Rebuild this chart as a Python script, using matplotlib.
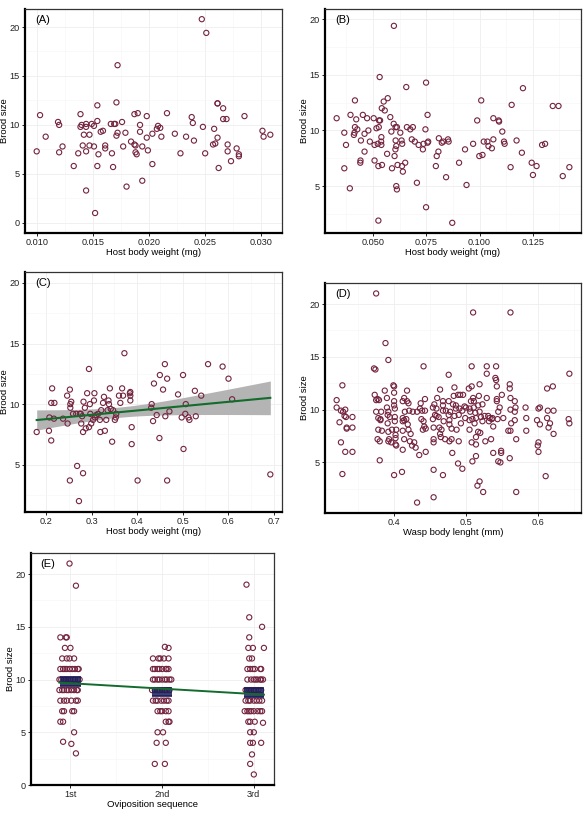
import numpy as np
import matplotlib
matplotlib.use("Agg")
import matplotlib.pyplot as plt
from matplotlib.ticker import AutoMinorLocator, FormatStrFormatter

plt.rcParams['font.family'] = ['Liberation Sans', 'DejaVu Sans']

# --- data ---
# (A) host body weight (mg) vs brood size
a_weight = [0.0100, 0.0103, 0.0108, 0.0119, 0.0120, 0.0120, 0.0123, 0.0133, 0.0137, 0.0139,
            0.0139, 0.0140, 0.0141, 0.0142, 0.0144, 0.0144, 0.0144, 0.0144, 0.0147, 0.0147,
            0.0149, 0.0151, 0.0151, 0.0152, 0.0154, 0.0154, 0.0155, 0.0154, 0.0157, 0.0159,
            0.0161, 0.0161, 0.0166, 0.0167, 0.0168, 0.0169, 0.0170, 0.0171, 0.0171, 0.0172,
            0.0172, 0.0176, 0.0177, 0.0179, 0.0180, 0.0184, 0.0187, 0.0187, 0.0188, 0.0188,
            0.0189, 0.0190, 0.0192, 0.0192, 0.0194, 0.0194, 0.0198, 0.0198, 0.0199, 0.0203,
            0.0203, 0.0207, 0.0208, 0.0210, 0.0211, 0.0216, 0.0223, 0.0228, 0.0233, 0.0238,
            0.0239, 0.0240, 0.0247, 0.0248, 0.0250, 0.0251, 0.0257, 0.0258, 0.0259, 0.0261,
            0.0261, 0.0261, 0.0262, 0.0266, 0.0266, 0.0269, 0.0270, 0.0270, 0.0273, 0.0278,
            0.0280, 0.0280, 0.0285, 0.0301, 0.0302, 0.0308]
a_brood = [7.3, 11.0, 8.8, 10.3, 10.0, 7.2, 7.8, 5.8, 7.1, 11.1,
           9.8, 10.0, 7.9, 9.0, 10.1, 9.8, 7.3, 3.3, 9.0, 7.9,
           10.1, 9.9, 7.8, 1.0, 10.4, 12.0, 7.0, 5.8, 9.3, 9.4,
           7.9, 7.6, 10.1, 7.1, 5.7, 10.1, 10.1, 8.9, 12.3, 16.1,
           9.2, 10.3, 7.8, 9.2, 3.7, 8.3, 11.1, 8.0, 7.9, 7.2,
           7.0, 11.2, 10.0, 9.3, 4.3, 7.8, 8.7, 10.9, 7.4, 6.0,
           9.1, 9.6, 9.9, 9.7, 8.8, 11.2, 9.1, 7.1, 8.8, 10.8,
           10.2, 8.4, 20.8, 9.8, 7.1, 19.4, 8.0, 9.6, 8.1, 12.2,
           12.2, 8.7, 5.6, 11.7, 10.6, 10.6, 8.0, 7.3, 6.3, 7.6,
           7.0, 6.8, 10.9, 9.4, 8.8, 9.0]

# (B) host body weight (mg) vs brood size
b_weight = [0.0329, 0.0365, 0.0365, 0.0373, 0.0391, 0.0394, 0.0410, 0.0413, 0.0415, 0.0415,
            0.0421, 0.0426, 0.0443, 0.0441, 0.0440, 0.0452, 0.0460, 0.0460, 0.0472, 0.0478,
            0.0485, 0.0503, 0.0507, 0.0507, 0.0516, 0.0522, 0.0525, 0.0525, 0.0527, 0.0528,
            0.0531, 0.0533, 0.0538, 0.0539, 0.0541, 0.0542, 0.0539, 0.0550, 0.0555, 0.0566,
            0.0569, 0.0581, 0.0586, 0.0589, 0.0597, 0.0598, 0.0601, 0.0605, 0.0606, 0.0606,
            0.0609, 0.0612, 0.0609, 0.0612, 0.0615, 0.0628, 0.0634, 0.0637, 0.0636, 0.0640,
            0.0651, 0.0656, 0.0659, 0.0675, 0.0682, 0.0687, 0.0696, 0.0706, 0.0714, 0.0734,
            0.0737, 0.0746, 0.0749, 0.0749, 0.0756, 0.0756, 0.0759, 0.0795, 0.0799, 0.0807,
            0.0809, 0.0823, 0.0830, 0.0843, 0.0852, 0.0855, 0.0872, 0.0904, 0.0932, 0.0939,
            0.0970, 0.0989, 0.0999, 0.1008, 0.1014, 0.1020, 0.1037, 0.1042, 0.1058, 0.1065,
            0.1065, 0.1090, 0.1092, 0.1107, 0.1115, 0.1118, 0.1146, 0.1151, 0.1174, 0.1199,
            0.1204, 0.1245, 0.1251, 0.1268, 0.1294, 0.1308, 0.1344, 0.1371, 0.1391, 0.1422]
b_brood = [11.1, 9.8, 6.6, 8.7, 4.8, 11.4, 9.6, 9.8, 12.7, 10.3,
           11.0, 10.1, 9.1, 7.3, 7.1, 11.4, 8.1, 9.7, 11.1, 10.0,
           9.0, 11.1, 8.7, 7.3, 10.2, 8.8, 6.8, 1.9, 10.3, 10.9,
           14.8, 10.9, 9.0, 9.4, 12.0, 6.9, 8.7, 12.6, 11.8, 7.9,
           12.9, 11.2, 9.9, 6.6, 10.6, 19.4, 7.7, 8.3, 9.1, 10.3,
           5.0, 4.7, 8.6, 10.3, 6.9, 9.8, 9.1, 8.8, 6.8, 6.3,
           7.1, 13.9, 10.3, 10.1, 9.2, 10.3, 9.0, 5.3, 8.7, 8.3,
           8.8, 10.1, 3.1, 14.3, 11.4, 8.9, 9.0, 6.8, 7.7, 8.1,
           9.3, 8.9, 9.0, 5.8, 9.2, 9.0, 1.7, 7.1, 8.3, 5.1,
           8.8, 10.9, 7.7, 12.7, 7.8, 9.0, 9.0, 8.6, 8.4, 11.1,
           9.2, 10.9, 10.8, 9.9, 9.0, 8.8, 6.7, 12.3, 9.1, 8.0,
           13.8, 7.1, 6.0, 6.8, 8.7, 8.8, 12.2, 12.2, 5.9, 6.7]

# (C) host body weight (mg) vs brood size, with linear fit
c_weight = [0.179, 0.206, 0.207, 0.211, 0.211, 0.213, 0.218, 0.217, 0.237, 0.246,
            0.247, 0.252, 0.252, 0.253, 0.253, 0.255, 0.259, 0.266, 0.268, 0.272,
            0.274, 0.276, 0.277, 0.279, 0.281, 0.281, 0.282, 0.285, 0.287, 0.290,
            0.294, 0.294, 0.296, 0.297, 0.299, 0.303, 0.305, 0.306, 0.307, 0.310,
            0.314, 0.318, 0.319, 0.321, 0.325, 0.327, 0.329, 0.332, 0.335, 0.337,
            0.338, 0.340, 0.342, 0.345, 0.347, 0.351, 0.353, 0.354, 0.360, 0.363,
            0.367, 0.369, 0.372, 0.384, 0.385, 0.385, 0.385, 0.388, 0.388, 0.401,
            0.431, 0.432, 0.435, 0.437, 0.443, 0.449, 0.450, 0.457, 0.461, 0.462,
            0.466, 0.466, 0.471, 0.490, 0.498, 0.501, 0.502, 0.506, 0.507, 0.513,
            0.515, 0.527, 0.529, 0.541, 0.556, 0.588, 0.601, 0.609, 0.693]
c_brood = [7.7, 7.8, 8.9, 7.0, 10.1, 11.3, 10.1, 8.8, 8.8, 10.7,
           8.4, 3.7, 11.2, 9.7, 10.0, 10.2, 9.2, 9.2, 4.9, 2.0,
           9.2, 9.2, 8.4, 9.0, 7.7, 4.3, 10.2, 9.7, 8.0, 10.9,
           12.9, 8.1, 10.0, 9.2, 8.4, 8.7, 10.3, 10.9, 8.9, 9.1,
           9.2, 8.7, 7.7, 9.5, 10.1, 10.6, 7.8, 8.7, 9.5, 10.3,
           10.0, 11.3, 9.6, 6.9, 9.5, 8.7, 8.9, 9.2, 10.7, 10.1,
           11.3, 10.7, 14.2, 10.9, 10.3, 11.0, 10.7, 8.1, 6.7, 3.7,
           9.7, 10.0, 8.6, 11.7, 9.1, 7.2, 12.4, 11.2, 13.3, 9.0,
           12.1, 3.7, 9.4, 10.8, 8.9, 12.4, 6.3, 9.2, 10.0, 8.9,
           8.7, 11.1, 9.0, 10.7, 13.3, 13.1, 12.1, 10.4, 4.2]

# (D) wasp body length (mm) vs brood size
d_length = [0.320, 0.320, 0.324, 0.326, 0.326, 0.328, 0.329, 0.331, 0.332, 0.332,
            0.333, 0.334, 0.334, 0.328, 0.342, 0.342, 0.342,
            0.375, 0.372, 0.374, 0.373, 0.375, 0.375, 0.377, 0.378, 0.378, 0.379,
            0.380, 0.377, 0.381, 0.380, 0.381, 0.382, 0.383,
            0.388, 0.387, 0.390, 0.390, 0.391, 0.391, 0.392, 0.392, 0.392, 0.392,
            0.393, 0.394, 0.396, 0.397, 0.399, 0.400, 0.400, 0.400, 0.400, 0.400,
            0.401, 0.401, 0.401, 0.402, 0.402, 0.403, 0.403, 0.402,
            0.411, 0.412, 0.412, 0.412, 0.412, 0.412, 0.414, 0.414, 0.414, 0.415,
            0.417, 0.418, 0.418, 0.419, 0.420, 0.420, 0.421, 0.422, 0.423, 0.425,
            0.426, 0.428, 0.430, 0.432, 0.435, 0.436, 0.437, 0.438, 0.439, 0.440,
            0.441, 0.441, 0.442, 0.443, 0.443, 0.444, 0.444, 0.432,
            0.455, 0.455, 0.454, 0.454, 0.455, 0.455, 0.455, 0.456, 0.457, 0.459,
            0.459, 0.460, 0.462, 0.463, 0.464, 0.464, 0.465, 0.466, 0.468, 0.468,
            0.468, 0.468, 0.469, 0.471, 0.472,
            0.476, 0.476, 0.476, 0.477, 0.477, 0.477, 0.478, 0.480, 0.480, 0.481,
            0.482, 0.483, 0.484, 0.484, 0.486, 0.486, 0.487, 0.489, 0.489, 0.490,
            0.490, 0.491, 0.492, 0.493, 0.495, 0.495, 0.496, 0.498, 0.499, 0.500,
            0.504, 0.505, 0.505, 0.505, 0.506, 0.507, 0.508, 0.508, 0.508, 0.509,
            0.509, 0.510, 0.510, 0.511, 0.511, 0.512, 0.513, 0.514, 0.514, 0.514,
            0.514, 0.516, 0.517, 0.517, 0.518, 0.519, 0.519, 0.519, 0.520, 0.521,
            0.523, 0.523, 0.524, 0.526, 0.527,
            0.529, 0.529, 0.529, 0.531, 0.532, 0.533, 0.535, 0.536, 0.537, 0.538,
            0.538, 0.541, 0.542, 0.542, 0.543, 0.543, 0.543, 0.544, 0.545, 0.545,
            0.547, 0.548, 0.549, 0.549, 0.550, 0.552,
            0.559, 0.561, 0.561, 0.561, 0.562, 0.562, 0.562, 0.563, 0.562, 0.568,
            0.568, 0.568, 0.569, 0.570, 0.570,
            0.583, 0.584, 0.584, 0.601, 0.603, 0.599, 0.600, 0.601, 0.601, 0.603,
            0.611, 0.613, 0.613, 0.614, 0.615, 0.617, 0.621, 0.622, 0.622, 0.644,
            0.643, 0.644]
d_brood = [10.9, 10.2, 8.8, 9.9, 6.9, 12.3, 9.8, 9.4, 10.0, 6.0,
           9.3, 8.3, 8.2, 3.9, 9.3, 8.3, 6.0,
           21.0, 13.9, 13.8, 11.4, 10.9, 9.8, 11.0, 9.2, 8.1, 10.9,
           7.0, 7.2, 9.1, 5.2, 9.0, 9.8, 8.0,
           16.3, 11.8, 11.1, 10.2, 9.5, 8.7, 14.7, 7.0, 7.9, 9.8,
           7.2, 9.3, 6.9, 8.1, 12.3, 12.2, 3.8, 11.6, 10.8, 10.4,
           10.1, 9.3, 8.9, 7.3, 6.7, 6.6, 8.1, 7.6,
           4.1, 10.8, 9.2, 8.9, 8.0, 6.2, 11.1, 7.2, 9.0, 9.8,
           9.1, 11.8, 10.8, 8.6, 8.1, 10.6, 9.9, 7.0, 7.7, 6.6,
           9.8, 6.9, 6.4, 9.8, 5.7, 10.1, 10.6, 9.1, 9.9, 8.1,
           14.1, 8.9, 8.4, 11.0, 9.9, 6.0, 8.2, 1.2,
           1.7, 4.3, 10.2, 9.1, 8.3, 7.2, 6.9, 10.5, 9.5, 10.1,
           9.4, 11.1, 9.3, 8.3, 11.9, 7.7, 7.4, 8.1, 10.8, 9.9,
           3.8, 10.4, 8.9, 7.2, 9.9,
           13.3, 10.8, 9.5, 8.6, 9.0, 7.0, 9.8, 8.2, 7.2, 5.9,
           10.5, 11.3, 9.4, 12.1, 10.4, 10.1, 8.1, 11.4, 4.9, 7.0,
           9.5, 10.1, 11.4, 8.7, 9.9, 4.4, 11.4, 10.3, 9.2, 10.2,
           12.0, 10.1, 9.0, 8.1, 9.8, 10.8, 6.9, 12.2, 14.1, 5.1,
           9.1, 19.2, 11.1, 10.8, 10.2, 8.7, 9.7, 7.4, 5.6, 6.7,
           9.2, 2.8, 7.9, 10.4, 11.3, 9.8, 3.2, 12.4, 7.8, 9.3,
           10.5, 8.9, 2.2, 9.4, 7.0,
           14.1, 13.4, 11.1, 9.4, 8.9, 9.2, 7.2, 9.1, 9.2, 5.9,
           8.4, 13.0, 12.8, 14.1, 11.0, 10.8, 12.2, 9.1, 5.1, 9.8,
           10.2, 5.0, 5.9, 6.1, 11.4, 9.2,
           8.0, 5.4, 12.0, 12.4, 11.1, 10.0, 8.0, 8.7, 19.2, 10.8,
           9.0, 9.8, 10.2, 7.2, 2.2,
           10.2, 9.2, 8.0, 10.1, 10.2, 9.0, 6.6, 6.0, 6.9, 8.6,
           3.7, 12.0, 9.2, 9.9, 8.3, 8.7, 12.2, 9.9, 7.7, 13.4,
           9.1, 8.7]

# (E) oviposition sequence: brood sizes and horizontal jitter per group
seq_labels = ['1st', '2nd', '3rd']
e1_brood = [21, 18.9, 14, 14, 14, 13, 13, 12, 12, 12, 12,
            11, 11, 11, 11, 11, 11, 11, 11, 11,
            10, 10, 10, 10, 10, 10, 10, 10, 10, 10,
            9, 9, 9, 9, 9, 9, 9, 9, 9,
            8, 8, 8, 8, 8, 8, 7, 7, 7, 7, 6, 6, 5, 4.1, 3.9, 3]
e1_jit = [-0.01, 0.06, -0.11, -0.05, -0.04, -0.06, 0.0, -0.09, -0.04, -0.01, 0.04,
          -0.11, -0.08, -0.06, -0.04, -0.01, 0.02, 0.05, 0.08, 0.09,
          -0.12, -0.10, -0.07, -0.05, -0.03, 0.0, 0.03, 0.05, 0.08, 0.10,
          -0.12, -0.09, -0.07, -0.04, -0.02, 0.01, 0.04, 0.07, 0.08,
          -0.11, -0.07, -0.04, 0.01, 0.06, 0.08, -0.09, -0.07, 0.02, 0.04,
          -0.11, -0.08, 0.04, -0.08, 0.01, 0.06]
e2_brood = [13.1, 13, 12, 12, 12, 12, 12,
            11, 11, 11, 11, 11, 11, 11, 11,
            10, 10, 10, 10, 10, 10, 10, 10, 10,
            9, 9, 9, 9, 9, 9, 9, 9,
            8, 8, 8, 8, 8, 8, 8, 7, 7, 7, 7, 7,
            6, 6, 6, 5, 5, 4, 4, 2, 2]
e2_jit = [0.03, 0.07, -0.10, -0.04, -0.02, 0.02, 0.07,
          -0.10, -0.08, -0.05, -0.03, 0.0, 0.04, 0.05, 0.07,
          -0.10, -0.08, -0.05, -0.03, 0.0, 0.03, 0.05, 0.08, 0.10,
          -0.11, -0.08, -0.05, -0.03, 0.0, 0.03, 0.05, 0.08,
          -0.10, -0.07, -0.05, -0.01, 0.02, 0.05, 0.07, -0.05, -0.02, 0.0, 0.04, 0.07,
          0.04, 0.07, 0.08, -0.05, 0.01, -0.06, 0.04, -0.08, 0.03]
e3_brood = [19, 15.9, 15, 14, 13, 13, 13, 12, 12,
            11, 11, 11, 11, 11, 11,
            10, 10, 10, 10, 10, 10, 10, 10,
            9, 9, 9, 9, 9, 9, 9, 9,
            8, 8, 8, 8, 8, 8, 8,
            7, 7, 7, 7, 7, 7, 7, 7,
            6, 6, 6, 5.9, 5, 5, 4, 4, 4, 2.9, 2, 1]
e3_jit = [-0.08, -0.05, 0.09, -0.05, -0.06, -0.01, 0.11, -0.05, -0.02,
          -0.07, -0.04, -0.01, 0.01, 0.07, 0.08,
          -0.07, -0.03, 0.0, 0.02, 0.04, 0.07, 0.08, 0.10,
          -0.09, -0.07, -0.05, -0.03, 0.0, 0.02, 0.05, 0.08,
          -0.09, -0.06, -0.04, 0.0, 0.03, 0.06, 0.09,
          -0.10, -0.07, -0.05, -0.03, 0.0, 0.04, 0.07, 0.09,
          -0.06, -0.04, 0.01, 0.10, -0.04, 0.0, -0.04, -0.01, 0.08, -0.02, -0.04, 0.0]

# --- styling ---
PT_EDGE = '#74243f'
FIT_GREEN = '#136b2c'
NAVY = '#1c1f5c'
W, H = 588, 813


def add_axes(left, top, right, bottom):
    return fig.add_axes([left / W, 1 - bottom / H, (right - left) / W, (bottom - top) / H])


def style(ax, label):
    ax.set_facecolor('white')
    for side in ['top', 'right']:
        ax.spines[side].set_color('#333333')
        ax.spines[side].set_linewidth(0.9)
    for side in ['left', 'bottom']:
        ax.spines[side].set_color('black')
        ax.spines[side].set_linewidth(1.6)
    ax.tick_params(direction='out', length=2.5, width=0.7, colors='#222222',
                   labelsize=6.6, pad=1.2)
    ax.tick_params(which='minor', length=0)
    ax.grid(which='major', color='#eeeeee', lw=0.6)
    ax.grid(which='minor', color='#f6f6f6', lw=0.4)
    ax.set_axisbelow(True)
    ax.set_ylabel('Brood size', fontsize=6.8, labelpad=0.5)
    ax.text(0.04, 0.975, label, transform=ax.transAxes, fontsize=8,
            va='top', ha='left')


def points(ax, x, y):
    ax.scatter(x, y, s=14, facecolors='none', edgecolors=PT_EDGE, linewidths=0.8, zorder=3)


def expand(lo, hi, m=0.05):
    r = hi - lo
    return lo - m * r, hi + m * r


fig = plt.figure(figsize=(W / 100, H / 100), dpi=100)

# (A)
ax = add_axes(25, 9, 282, 233)
points(ax, a_weight, a_brood)
ax.set_xlim(*expand(min(a_weight), max(a_weight)))
ax.set_ylim(*expand(0, max(a_brood)))
ax.set_xticks([0.010, 0.015, 0.020, 0.025, 0.030])
ax.xaxis.set_major_formatter(FormatStrFormatter('%.3f'))
ax.set_yticks([0, 5, 10, 15, 20])
ax.xaxis.set_minor_locator(AutoMinorLocator(2))
ax.yaxis.set_minor_locator(AutoMinorLocator(2))
ax.set_xlabel('Host body weight (mg)', fontsize=6.8, labelpad=0.5)
style(ax, '(A)')

# (B)
ax = add_axes(325, 9, 581, 233)
points(ax, b_weight, b_brood)
ax.set_xlim(*expand(min(b_weight), max(b_weight)))
ax.set_ylim(*expand(min(b_brood), 20))
ax.set_xticks([0.050, 0.075, 0.100, 0.125])
ax.xaxis.set_major_formatter(FormatStrFormatter('%.3f'))
ax.set_yticks([5, 10, 15, 20])
ax.xaxis.set_minor_locator(AutoMinorLocator(2))
ax.yaxis.set_minor_locator(AutoMinorLocator(2))
ax.set_xlabel('Host body weight (mg)', fontsize=6.8, labelpad=0.5)
style(ax, '(B)')

# (C) with OLS fit and 95% band
ax = add_axes(25, 272, 282, 512)
cx = np.array(c_weight)
cy = np.array(c_brood)
slope, icpt = np.polyfit(cx, cy, 1)
resid = cy - (icpt + slope * cx)
n = len(cx)
s = np.sqrt(np.sum(resid ** 2) / (n - 2))
gx = np.linspace(cx.min(), cx.max(), 100)
gy = icpt + slope * gx
se = s * np.sqrt(1 / n + (gx - cx.mean()) ** 2 / np.sum((cx - cx.mean()) ** 2))
ax.fill_between(gx, gy - 1.98 * se, gy + 1.98 * se, color='#b4b4b4', lw=0, zorder=2)
ax.plot(gx, gy, color=FIT_GREEN, lw=1.5, zorder=4)
points(ax, cx, cy)
ax.set_xlim(*expand(cx.min(), cx.max()))
ax.set_ylim(*expand(cy.min(), 20))
ax.set_xticks([0.2, 0.3, 0.4, 0.5, 0.6, 0.7])
ax.xaxis.set_major_formatter(FormatStrFormatter('%.1f'))
ax.set_yticks([5, 10, 15, 20])
ax.xaxis.set_minor_locator(AutoMinorLocator(2))
ax.yaxis.set_minor_locator(AutoMinorLocator(2))
ax.set_xlabel('Host body weight (mg)', fontsize=6.8, labelpad=0.5)
style(ax, '(C)')

# (D)
ax = add_axes(325, 283, 581, 513)
points(ax, d_length, d_brood)
ax.set_xlim(*expand(min(d_length), max(d_length)))
ax.set_ylim(*expand(min(d_brood), max(d_brood)))
ax.set_xticks([0.4, 0.5, 0.6])
ax.xaxis.set_major_formatter(FormatStrFormatter('%.1f'))
ax.set_yticks([5, 10, 15, 20])
ax.xaxis.set_minor_locator(AutoMinorLocator(2))
ax.yaxis.set_minor_locator(AutoMinorLocator(2))
ax.set_xlabel('Wasp body lenght (mm)', fontsize=6.8, labelpad=0.5)
style(ax, '(D)')

# (E)
ax = add_axes(31, 553, 274, 785)
groups = [(e1_brood, e1_jit), (e2_brood, e2_jit), (e3_brood, e3_jit)]
all_x, all_y = [], []
for i, (yy, jj) in enumerate(groups, start=1):
    xx = [i + j for j in jj]
    all_x += xx
    all_y += yy
    points(ax, xx, yy)
    m = np.mean(yy)
    sem = np.std(yy, ddof=1) / np.sqrt(len(yy))
    ax.fill_between([i - 0.11, i + 0.11], m - sem, m + sem, color=NAVY, alpha=0.85,
                    lw=0, zorder=4)
    ax.hlines([m - sem, m + sem], i - 0.11, i + 0.11, color=NAVY, lw=1.2, zorder=4)
all_x = np.array(all_x)
slope_e, icpt_e = np.polyfit(all_x, all_y, 1)
ex = np.array([all_x.min(), all_x.max()])
ax.plot(ex, icpt_e + slope_e * ex, color=FIT_GREEN, lw=1.4, zorder=5)
ax.set_xlim(0.57, 3.22)
ax.set_ylim(*expand(min(all_y), max(all_y)))
ax.set_xticks([1, 2, 3])
ax.set_xticklabels(seq_labels)
ax.set_yticks([0, 5, 10, 15, 20])
ax.xaxis.set_minor_locator(AutoMinorLocator(2))
ax.yaxis.set_minor_locator(AutoMinorLocator(2))
ax.set_xlabel('Oviposition sequence', fontsize=6.8, labelpad=0.5)
style(ax, '(E)')

fig.savefig('out.png', dpi=100, facecolor='white')
